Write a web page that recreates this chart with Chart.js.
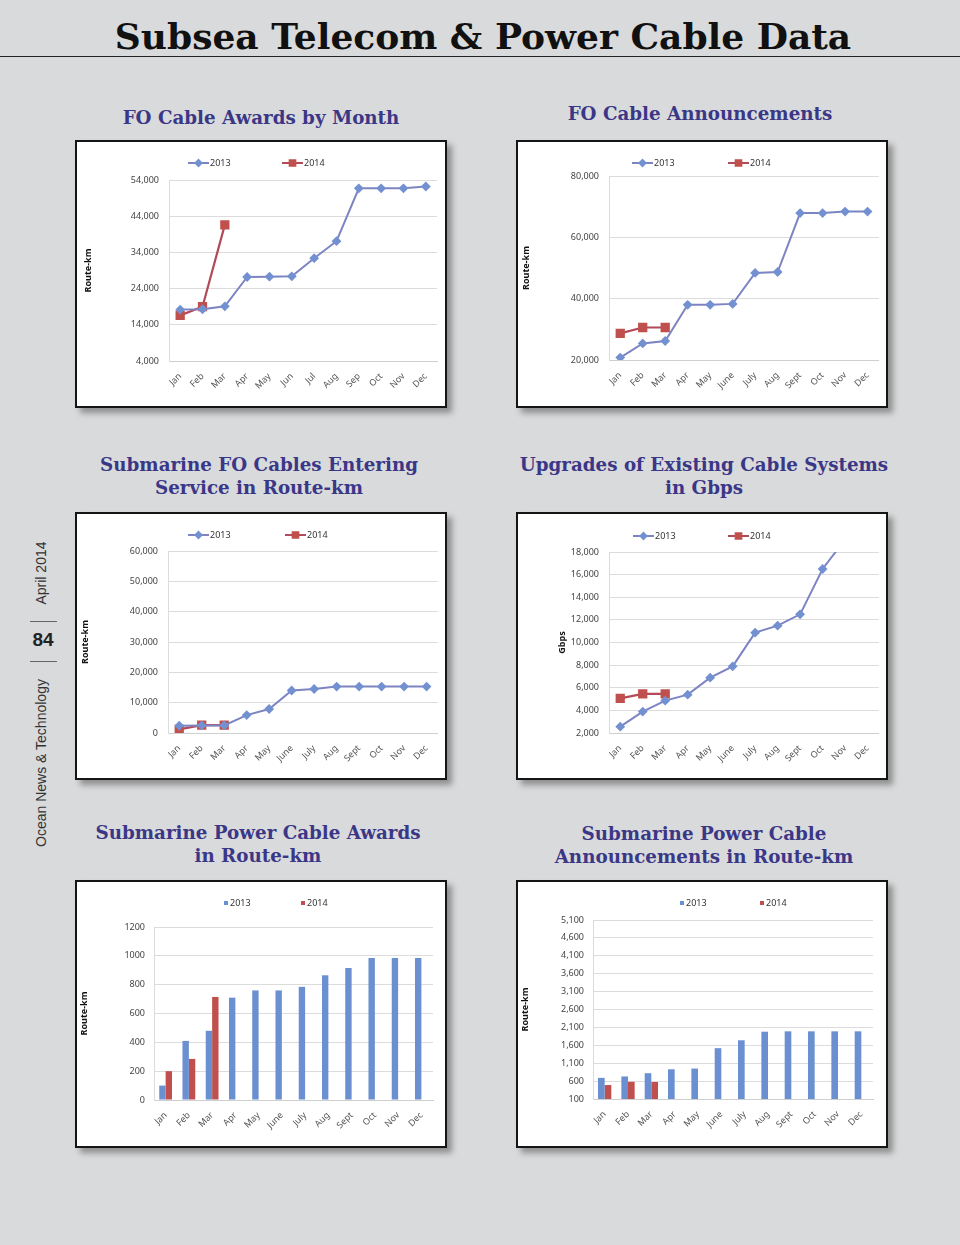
<!DOCTYPE html>
<html>
<head>
<meta charset="utf-8">
<script src="https://cdn.jsdelivr.net/npm/chart.js@4.4.0/dist/chart.umd.min.js"></script>
<style>
  html, body { margin: 0; padding: 0; }
  body { width: 960px; height: 1245px; background: #d9dadb; position: relative; overflow: hidden; }
  h1 {
    position: absolute; left: 0; top: 12px; width: 966px; margin: 0;
    text-align: center; font: bold 36px "DejaVu Serif", serif; color: #111; line-height: 48px;
  }
  .rule { position: absolute; left: 0; top: 56px; width: 960px; height: 0; border-top: 1.5px solid #222; }
  .sub {
    position: absolute; width: 440px; margin: 0; text-align: center;
    font: bold 18.3px "DejaVu Serif", serif; color: #3b3787; line-height: 23px;
  }
  .box {
    position: absolute; width: 372px; height: 268px; box-sizing: border-box;
    border: 2px solid #151515; background: #fff;
    box-shadow: 5px 5px 6px rgba(0, 0, 0, 0.35);
  }
  .box canvas { display: block; }
  .side { position: absolute; font-family: "Liberation Sans", Arial, sans-serif; color: #333; }
  .rot { transform: translate(-50%, -50%) rotate(-90deg); white-space: nowrap; font-size: 14px; }
  .num { transform: translate(-50%, -50%); font-weight: bold; font-size: 19px; color: #222; }
  .tick { position: absolute; left: 30px; width: 27px; border-top: 1px solid #666; }
</style>
</head>
<body>
<h1>Subsea Telecom &amp; Power Cable Data</h1>
<div class="rule"></div>

<div class="side rot" style="left:41px; top:573px;">April 2014</div>
<div class="tick" style="top:621px;"></div>
<div class="side num" style="left:43px; top:640px;">84</div>
<div class="tick" style="top:661px;"></div>
<div class="side rot" style="left:41px; top:763px;">Ocean News &amp; Technology</div>

<div class="sub" style="left:41px; top:106px;">FO Cable Awards by Month</div>
<div class="sub" style="left:480px; top:102px;">FO Cable Announcements</div>
<div class="sub" style="left:39px; top:453px;">Submarine FO Cables Entering<br>Service in Route-km</div>
<div class="sub" style="left:484px; top:453px;">Upgrades of Existing Cable Systems<br>in Gbps</div>
<div class="sub" style="left:38px; top:821px;">Submarine Power Cable Awards<br>in Route-km</div>
<div class="sub" style="left:484px; top:822px;">Submarine Power Cable<br>Announcements in Route-km</div>

<div class="box" style="left:75px; top:140px;"><canvas id="foAwards" width="368" height="264"></canvas></div>
<div class="box" style="left:516px; top:140px;"><canvas id="foAnnounce" width="368" height="264"></canvas></div>
<div class="box" style="left:75px; top:512px;"><canvas id="foService" width="368" height="264"></canvas></div>
<div class="box" style="left:516px; top:512px;"><canvas id="upgrades" width="368" height="264"></canvas></div>
<div class="box" style="left:75px; top:880px;"><canvas id="powerAwards" width="368" height="264"></canvas></div>
<div class="box" style="left:516px; top:880px;"><canvas id="powerAnnounce" width="368" height="264"></canvas></div>

<script>
  // month labels (the first chart uses 3-letter months throughout)
  const monthsShort = ["Jan", "Feb", "Mar", "Apr", "May", "Jun", "Jul", "Aug", "Sep", "Oct", "Nov", "Dec"];
  const months = ["Jan", "Feb", "Mar", "Apr", "May", "June", "July", "Aug", "Sept", "Oct", "Nov", "Dec"];
  const seriesNames = ["2013", "2014"];

  // FO cable awards by month, route-km
  const foAwards2013 = [18200, 18300, 19100, 27200, 27300, 27400, 32400, 37100, 51700, 51700, 51700, 52200];
  const foAwards2014 = [16600, 19000, 41600];

  // FO cable announcements, route-km
  const foAnnounce2013 = [20800, 25400, 26200, 38000, 38000, 38300, 48400, 48700, 67900, 67900, 68400, 68400];
  const foAnnounce2014 = [28700, 30600, 30600];

  // submarine FO cables entering service, route-km
  const foService2013 = [2400, 2500, 2500, 5900, 7900, 14000, 14500, 15300, 15300, 15300, 15300, 15300];
  const foService2014 = [1200, 2600, 2600];

  // upgrades of existing systems, Gbps (Nov/Dec run off the top of the axis)
  const upgrades2013 = [2560, 3890, 4860, 5390, 6890, 7890, 10870, 11490, 12490, 16500, 19100, 20000];
  const upgrades2014 = [5060, 5450, 5450];

  // submarine power cable awards, route-km
  const powerAwards2013 = [100, 410, 480, 710, 760, 760, 785, 865, 915, 985, 985, 985];
  const powerAwards2014 = [200, 285, 715];

  // submarine power cable announcements, route-km
  const powerAnnounce2013 = [690, 730, 820, 930, 950, 1520, 1740, 1980, 1990, 1990, 1990, 1990];
  const powerAnnounce2014 = [490, 580, 575];

  const FONT = "'Noto Sans', 'Open Sans', sans-serif";
  Chart.defaults.font.family = FONT;
  Chart.defaults.font.size = 9;
  Chart.defaults.color = "#4a4a4a";
  Chart.defaults.animation = false;

  const BLUE_LINE = "#7d84c2";
  const BLUE_MARK = "#7391d1";
  const RED_LINE = "#b24a5a";
  const RED_MARK = "#c0504d";
  const BLUE_BAR = "#6b90d2";
  const RED_BAR = "#c0504d";
  const GRID = "#dcdcdc";

  /* legend row at the top of each panel, drawn from the dataset styles */
  const topLegend = {
    id: "topLegend",
    afterDraw(chart, args, opts) {
      const ctx = chart.ctx;
      ctx.save();
      ctx.font = "9px " + FONT;
      ctx.textBaseline = "middle";
      chart.data.datasets.forEach((ds, i) => {
        const x = opts.x[i];
        const y = opts.y;
        let textX;
        if (opts.kind === "line") {
          ctx.strokeStyle = ds.borderColor;
          ctx.lineWidth = 2;
          ctx.beginPath();
          ctx.moveTo(x, y);
          ctx.lineTo(x + 21, y);
          ctx.stroke();
          ctx.fillStyle = ds.pointBackgroundColor;
          ctx.strokeStyle = ds.pointBorderColor;
          Chart.helpers.drawPoint(ctx, {
            pointStyle: ds.pointStyle,
            radius: ds.pointStyle === "rect" ? 4 : 3,
            rotation: 0,
            borderWidth: 1
          }, x + 10.5, y);
          textX = x + 22;
        } else {
          ctx.fillStyle = ds.backgroundColor;
          ctx.fillRect(x, y - 2, 4, 4);
          textX = x + 6;
        }
        ctx.fillStyle = "#333";
        ctx.fillText(ds.label, textX, y + 0.5);
      });
      ctx.restore();
    }
  };

  function axes(cfg) {
    return {
      x: {
        offset: true,
        afterFit: (s) => { s.height = cfg.xH; },
        grid: { display: false },
        border: { display: true, color: "#cfcfcf" },
        ticks: { minRotation: 45, maxRotation: 45, padding: 2, color: "#555", autoSkip: false }
      },
      y: {
        min: cfg.min,
        max: cfg.max,
        afterFit: (s) => { s.width = cfg.yW; },
        grid: { color: GRID, drawTicks: false },
        border: { display: true, color: "#dcdcdc" },
        ticks: {
          stepSize: cfg.step,
          padding: cfg.tickPad || 10,
          color: "#444",
          callback: cfg.plain ? (v) => String(v) : (v) => v.toLocaleString("en-US")
        },
        title: {
          display: true,
          text: cfg.title,
          color: "#111",
          font: { size: 9, weight: "bold" },
          padding: { top: cfg.titlePad, bottom: 0 }
        }
      }
    };
  }

  function lineChart(id, labels, a, b, cfg) {
    new Chart(document.getElementById(id), {
      type: "line",
      data: {
        labels: labels,
        datasets: [
          {
            label: seriesNames[0], data: a,
            borderColor: BLUE_LINE, borderWidth: 2,
            pointStyle: "rectRot", pointRadius: 3.5,
            pointBackgroundColor: BLUE_MARK, pointBorderColor: BLUE_MARK,
            tension: 0
          },
          {
            label: seriesNames[1], data: b,
            borderColor: RED_LINE, borderWidth: 2.2,
            pointStyle: "rect", pointRadius: 5,
            pointBackgroundColor: RED_MARK, pointBorderColor: RED_MARK,
            tension: 0
          }
        ]
      },
      options: {
        responsive: false,
        layout: { padding: { top: cfg.padTop, right: cfg.padRight, left: 0, bottom: 0 } },
        plugins: {
          legend: { display: false },
          tooltip: { enabled: false },
          topLegend: { kind: "line", x: cfg.legendX, y: cfg.legendY }
        },
        scales: axes(cfg)
      },
      plugins: [topLegend]
    });
  }

  function barChart(id, labels, a, b, cfg) {
    new Chart(document.getElementById(id), {
      type: "bar",
      data: {
        labels: labels,
        datasets: [
          { label: seriesNames[0], data: a, backgroundColor: BLUE_BAR },
          { label: seriesNames[1], data: b, backgroundColor: RED_BAR }
        ]
      },
      options: {
        responsive: false,
        datasets: { bar: { categoryPercentage: cfg.catPct, barPercentage: 1 } },
        layout: { padding: { top: cfg.padTop, right: cfg.padRight, left: 0, bottom: 0 } },
        plugins: {
          legend: { display: false },
          tooltip: { enabled: false },
          topLegend: { kind: "bar", x: cfg.legendX, y: cfg.legendY }
        },
        scales: axes(cfg)
      },
      plugins: [topLegend]
    });
  }

  lineChart("foAwards", monthsShort, foAwards2013, foAwards2014, {
    min: 4000, max: 54000, step: 10000, title: "Route-km",
    padTop: 38, padRight: 8, yW: 92, xH: 45, titlePad: 5.6,
    legendX: [111, 205], legendY: 21
  });

  lineChart("foAnnounce", months, foAnnounce2013, foAnnounce2014, {
    min: 20000, max: 80000, step: 20000, title: "Route-km",
    padTop: 34, padRight: 7, yW: 91, xH: 46, titlePad: 2.6,
    legendX: [114, 210], legendY: 21
  });

  lineChart("foService", months, foService2013, foService2014, {
    min: 0, max: 60000, step: 10000, title: "Route-km",
    padTop: 37, padRight: 7, yW: 91, xH: 45, titlePad: 2.6,
    legendX: [111, 208], legendY: 21
  });

  lineChart("upgrades", months, upgrades2013, upgrades2014, {
    min: 2000, max: 18000, step: 2000, title: "Gbps",
    padTop: 38, padRight: 7, yW: 91, xH: 45, titlePad: 39,
    legendX: [115, 210], legendY: 22
  });

  barChart("powerAwards", months, powerAwards2013, powerAwards2014, {
    min: 0, max: 1200, step: 200, title: "Route-km", plain: true,
    padTop: 45, padRight: 12, yW: 77, xH: 46, titlePad: 1.6, tickPad: 9,
    catPct: 0.55, legendX: [147, 224], legendY: 21
  });

  barChart("powerAnnounce", months, powerAnnounce2013, powerAnnounce2014, {
    min: 100, max: 5100, step: 500, title: "Route-km",
    padTop: 38, padRight: 13, yW: 75, xH: 47, titlePad: 1.6, tickPad: 9,
    catPct: 0.57, legendX: [162, 242], legendY: 21
  });
</script>
</body>
</html>
